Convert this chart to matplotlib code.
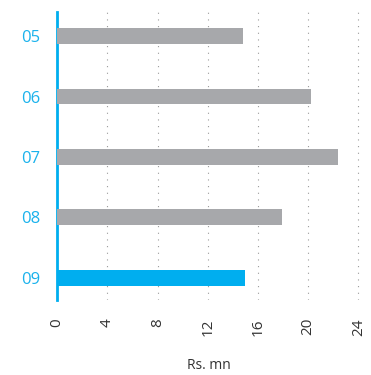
import matplotlib
matplotlib.use('Agg')
import matplotlib.pyplot as plt

# Data
years = ['05', '06', '07', '08', '09']
values = [14.8, 20.2, 22.4, 17.9, 15.0]
bar_colors = ['#a7a8ab', '#a7a8ab', '#a7a8ab', '#a7a8ab', '#00aeef']
xticks = [0, 4, 8, 12, 16, 20, 24]

plt.rcParams['font.family'] = ['Open Sans', 'DejaVu Sans']

fig = plt.figure(figsize=(3.71, 3.75), dpi=100)
ax = fig.add_axes([0.154, 0.2, 0.819, 0.768])

ypos = list(range(len(years)))
ax.barh(ypos, values, height=0.26, color=bar_colors, zorder=3)

ax.set_ylim(4.37, -0.4)
ax.set_xlim(0, 24.2)

ax.set_yticks(ypos)
ax.set_yticklabels(years, color='#1ab2ec', fontsize=12)
ax.set_xticks(xticks)
ax.set_xticklabels([str(t) for t in xticks], rotation=90, fontsize=11, color='#333333')
ax.tick_params(axis='both', length=0)
ax.tick_params(axis='y', pad=12)
ax.tick_params(axis='x', pad=13)

# dotted vertical gridlines
ax.grid(axis='x', linestyle=(0, (1, 5)), color='#9a9a9a', linewidth=0.8, zorder=0)
ax.set_axisbelow(True)

for s in ['top', 'right', 'bottom']:
    ax.spines[s].set_visible(False)
ax.spines['left'].set_color('#00aeef')
ax.spines['left'].set_linewidth(2)

ax.set_xlabel('Rs. mn', fontsize=10, color='#333333', labelpad=16)

plt.savefig('out.png', dpi=100)
